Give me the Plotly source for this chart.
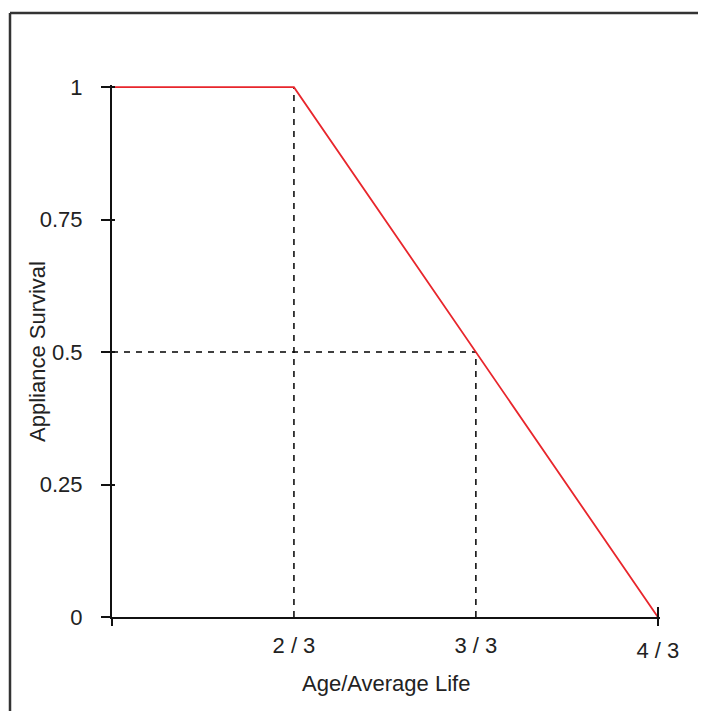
import plotly.graph_objects as go

# Data
age = [1/3, 2/3, 4/3]
survival = [1, 1, 0]
guide_age = [2/3, 1.0]
guide_surv = [1.0, 0.5]
x_tick_vals = [2/3, 1.0]
x_tick_text = ["2 / 3", "3 / 3"]
x_end_val = [4/3]
x_end_text = ["4 / 3"]
y_tick_vals = [0, 0.25, 0.5, 0.75, 1]
y_tick_text = ["0", "0.25", "0.5", "0.75", "1"]

OFF = 8  # default page body margin
W, H = 706 - OFF, 711 - OFF
YTOP = 1.004
L, R, B = 112 - OFF, 660 - OFF, 617 - OFF
T = B - round((B - (87 - OFF)) * YTOP)

FONT = "Liberation Sans, Arial, sans-serif"
fig = go.Figure()

# dashed guides
dash_style = dict(color="black", width=1.5, dash="6px,6px")
fig.add_trace(go.Scatter(x=[guide_age[0], guide_age[0]], y=[0, guide_surv[0]], mode="lines",
                         line=dash_style, showlegend=False, hoverinfo="skip", cliponaxis=False))
fig.add_trace(go.Scatter(x=[age[0], guide_age[1]], y=[guide_surv[1], guide_surv[1]], mode="lines",
                         line=dash_style, showlegend=False, hoverinfo="skip", cliponaxis=False))
fig.add_trace(go.Scatter(x=[guide_age[1], guide_age[1]], y=[0, guide_surv[1]], mode="lines",
                         line=dash_style, showlegend=False, hoverinfo="skip", cliponaxis=False))

# survival curve
fig.add_trace(go.Scatter(x=age, y=survival, mode="lines", line=dict(color="#e8262c", width=1.8),
                         showlegend=False, cliponaxis=False))

# invisible traces to activate overlay axes
fig.add_trace(go.Scatter(x=[age[0]], y=[0], xaxis="x2", yaxis="y", mode="markers",
                         marker=dict(opacity=0), showlegend=False, hoverinfo="skip"))
fig.add_trace(go.Scatter(x=[age[0]], y=[0], xaxis="x3", yaxis="y2", mode="markers",
                         marker=dict(opacity=0), showlegend=False, hoverinfo="skip"))

xr = [age[0], age[-1] * 1.003]
tickfont = dict(family=FONT, size=22, color="#222")
fig.update_layout(
    width=W, height=H,
    margin=dict(l=L, r=W - R, t=T, b=H - B, pad=0),
    paper_bgcolor="white", plot_bgcolor="white",
    xaxis=dict(range=xr, tickvals=x_tick_vals, ticktext=x_tick_text, ticks="",
               showgrid=False, zeroline=False, showline=True, linecolor="#111", linewidth=2,
               tickfont=tickfont, ticklabelstandoff=8),
    xaxis2=dict(range=xr, overlaying="x", side="bottom", tickvals=[age[0]] + x_end_val,
                ticktext=[""] + x_end_text, ticks="outside", ticklen=8, tickwidth=2,
                tickcolor="#111", showgrid=False, zeroline=False, showline=False,
                tickfont=tickfont, ticklabelstandoff=6),
    xaxis3=dict(range=xr, overlaying="x", side="bottom", tickvals=x_end_val, ticks="inside",
                ticklen=10, tickwidth=2, tickcolor="#111", showticklabels=False,
                showgrid=False, zeroline=False, showline=False),
    yaxis=dict(range=[0, YTOP], tickvals=y_tick_vals, ticktext=y_tick_text, ticks="outside",
               ticklen=9, tickwidth=1.5, tickcolor="#111", showgrid=False, zeroline=False,
               showline=True, linecolor="#111", linewidth=2, tickfont=tickfont,
               ticklabelstandoff=14),
    yaxis2=dict(range=[0, YTOP], overlaying="y", side="left", tickvals=y_tick_vals, ticks="inside",
                ticklen=3, tickwidth=1.5, tickcolor="#111", showticklabels=False,
                showgrid=False, zeroline=False, showline=False),
)

pw, ph = R - L, B - T
fig.add_annotation(text="Age/Average Life", xref="paper", yref="paper",
                   x=(386 - OFF - L) / pw, y=(B - (683 - OFF)) / ph, xanchor="center", yanchor="middle",
                   showarrow=False, font=dict(family=FONT, size=22, color="#222"))
fig.add_annotation(text="Appliance Survival", xref="paper", yref="paper",
                   x=(37 - OFF - L) / pw, y=(B - (352 - OFF)) / ph, xanchor="center", yanchor="middle",
                   textangle=-90, showarrow=False, font=dict(family=FONT, size=22, color="#222"))

# outer frame: only the top and left edges fall inside the picture
bx0 = (10 - OFF - L) / pw
by1 = (B - (13 - OFF)) / ph
frame = dict(color="#333", width=2.5)
fig.add_shape(type="line", xref="paper", yref="paper", x0=bx0, x1=(W + 20 - L) / pw,
              y0=by1, y1=by1, line=frame, layer="below")
fig.add_shape(type="line", xref="paper", yref="paper", x0=bx0, x1=bx0,
              y0=(B - H - 20) / ph, y1=by1, line=frame, layer="below")

fig.write_html("out.html",
               post_script="document.documentElement.style.overflow='hidden';"
                           "document.body.style.overflow='hidden';")
